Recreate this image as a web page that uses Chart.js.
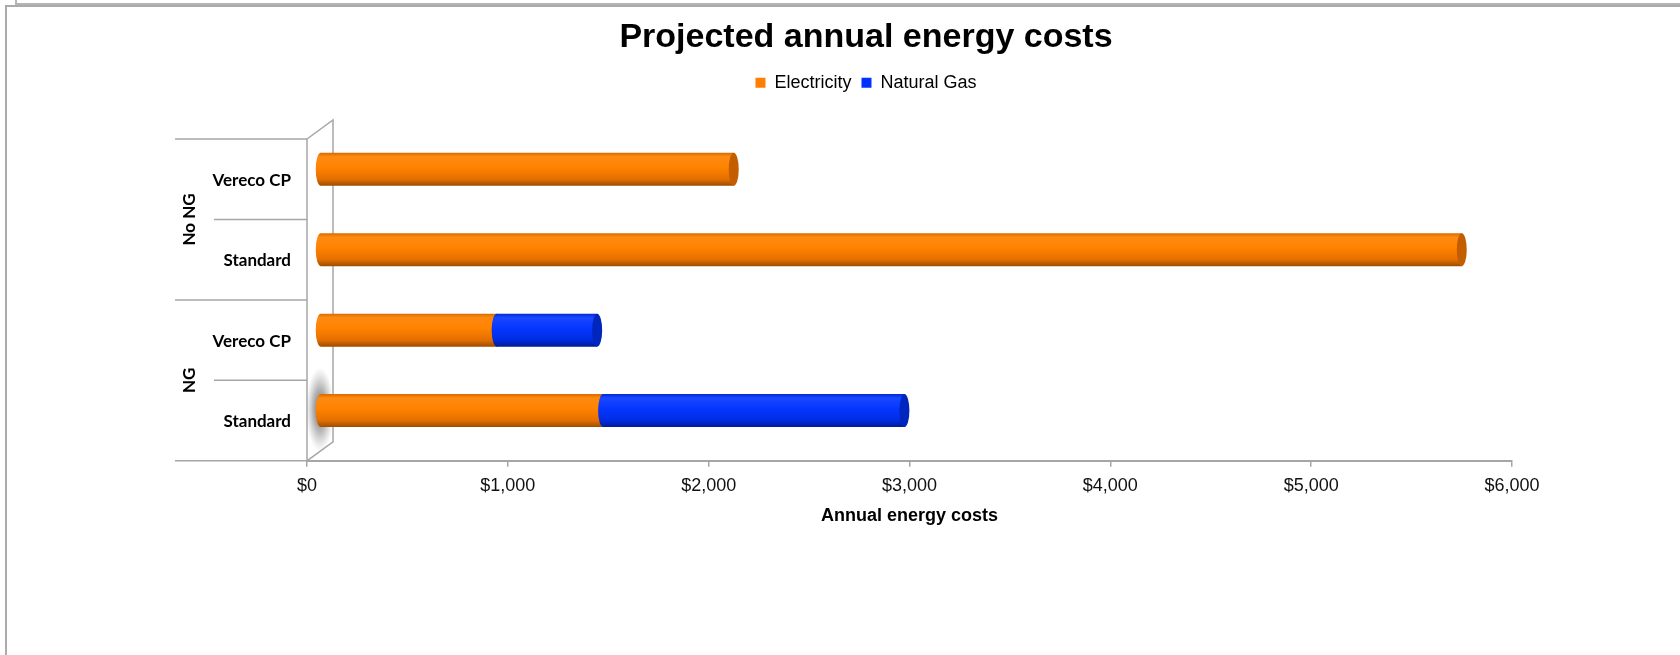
<!DOCTYPE html>
<html>
<head>
<meta charset="utf-8">
<script src="https://cdn.jsdelivr.net/npm/chart.js@4.4.1/dist/chart.umd.min.js"></script>
<style>
  html, body { margin: 0; padding: 0; background: #fff; }
  body { width: 1680px; height: 655px; overflow: hidden; position: relative; }
  #topLine { position: absolute; left: 15px; top: 0; right: 0; height: 3px;
             border-left: 2px solid #b4b4b4; border-bottom: 2px solid #b4b4b4; }
  #frame { position: absolute; left: 5px; top: 5px; right: -10px; bottom: -10px;
           border-left: 2px solid #ababab; border-top: 2px solid #ababab; }
  #wrap { position: absolute; left: 0; top: 0; width: 1680px; height: 655px; }
</style>
</head>
<body>
<div id="topLine"></div>
<div id="frame"></div>
<div id="wrap"><canvas id="costChart"></canvas></div>
<script>
// data
const categories = ['Vereco CP', 'Standard', 'Vereco CP', 'Standard'];
const groups = ['No NG', 'NG'];
const groupSize = 2;
const electricity = [2060, 5685, 880, 1410];
const naturalGas = [0, 0, 500, 1500];
const xTicks = [0, 1000, 2000, 3000, 4000, 5000, 6000];

const DEPTH_X = 13, DEPTH_Y = -10;   // bars sit half way into the floor
const BACK_X = 26, BACK_Y = -19;     // back wall offset
const LINE = '#a6a6a6';
const CAT_FONT = 'bold 17px Lato';

// the little 3d box at the category axis, drawn under the bars,
// plus the two-level category labels
const walls = {
    id: 'walls',
    beforeDatasetsDraw(chart) {
        const ctx = chart.ctx;
        const {left, top, bottom} = chart.chartArea;
        const y = chart.scales.y;
        ctx.save();

        // soft shadow next to the last bar
        ctx.save();
        ctx.translate(left + 13, y.getPixelForValue(3) - 11);
        ctx.scale(1, 3);
        const rg = ctx.createRadialGradient(0, 0, 0, 0, 0, 14);
        rg.addColorStop(0, 'rgba(90,90,90,0.95)');
        rg.addColorStop(0.5, 'rgba(120,120,120,0.55)');
        rg.addColorStop(1, 'rgba(150,150,150,0)');
        ctx.fillStyle = rg;
        ctx.beginPath();
        ctx.arc(0, 0, 14, 0, Math.PI * 2);
        ctx.fill();
        ctx.restore();

        ctx.strokeStyle = LINE;
        ctx.lineWidth = 1.5;
        ctx.beginPath();
        ctx.moveTo(left, top); ctx.lineTo(left, bottom);
        ctx.moveTo(left, top); ctx.lineTo(left + BACK_X, top + BACK_Y);
        ctx.lineTo(left + BACK_X, bottom + BACK_Y);
        ctx.lineTo(left, bottom);
        for (let i = 0; i <= categories.length; i++) {
            const py = y.getPixelForValue(i - 0.5);
            const startX = (i % groupSize === 0) ? left - 132 : left - 93;
            ctx.moveTo(startX, py); ctx.lineTo(left, py);
        }
        ctx.stroke();

        ctx.fillStyle = '#000';
        ctx.font = CAT_FONT;
        ctx.textBaseline = 'middle';
        ctx.textAlign = 'right';
        categories.forEach((c, i) => {
            ctx.fillText(c, left - 16, y.getPixelForValue(i) + 1);
        });

        // group labels, turned on their side
        ctx.textAlign = 'center';
        groups.forEach((g, gi) => {
            const y0 = y.getPixelForValue(gi * groupSize - 0.5);
            const y1 = y.getPixelForValue((gi + 1) * groupSize - 0.5);
            ctx.save();
            ctx.translate(left - 117, (y0 + y1) / 2);
            ctx.rotate(-Math.PI / 2);
            ctx.fillText(g, 0, 0);
            ctx.restore();
        });
        ctx.restore();
    }
};

// cylinder look for each bar segment, first series first so the
// next segment's rounded end lies over the previous cap.
// Returning false skips the flat default bars.
const cylinders = {
    id: 'cylinders',
    beforeDatasetsDraw(chart) {
        const ctx = chart.ctx;
        ctx.save();
        ctx.translate(DEPTH_X, DEPTH_Y);
        chart.data.datasets.forEach((ds, di) => {
            chart.getDatasetMeta(di).data.forEach((bar, i) => {
                if (!ds.data[i]) return;
                const {x, y, base, height} = bar.getProps(['x', 'y', 'base', 'height'], true);
                const top = y - height / 2, rx = 5;
                const g = ctx.createLinearGradient(0, top, 0, top + height);
                ds.shades.forEach(([stop, c]) => g.addColorStop(stop, c));
                ctx.fillStyle = g;
                ctx.beginPath();
                ctx.ellipse(base, y, rx, height / 2, 0, Math.PI / 2, Math.PI * 1.5);
                ctx.lineTo(x, top);
                ctx.lineTo(x, top + height);
                ctx.closePath();
                ctx.fill();
                ctx.fillStyle = ds.capColor;
                ctx.beginPath();
                ctx.ellipse(x, y, rx, height / 2, 0, 0, Math.PI * 2);
                ctx.fill();
            });
        });
        ctx.restore();
        return false;
    }
};

const ctx = document.getElementById('costChart').getContext('2d');
new Chart(ctx, {
    type: 'bar',
    data: {
        labels: categories,
        datasets: [{
            label: 'Electricity',
            data: electricity,
            backgroundColor: '#ff8000',
            shades: [[0, '#d86a00'], [0.12, '#ff8a12'], [0.45, '#ff8300'], [0.8, '#e46f00'], [1, '#9c4d00']],
            capColor: '#c25e00',
            barThickness: 33
        }, {
            label: 'Natural Gas',
            data: naturalGas,
            backgroundColor: '#0033ff',
            shades: [[0, '#0029d6'], [0.12, '#1a48ff'], [0.45, '#0436ff'], [0.8, '#002ce0'], [1, '#001c96']],
            capColor: '#0026bd',
            barThickness: 33
        }]
    },
    options: {
        indexAxis: 'y',
        responsive: true,
        maintainAspectRatio: false,
        animation: false,
        // left padding is wide so the title and legend sit a little right of centre
        layout: { padding: { left: 220, right: 168, top: 0, bottom: 124 } },
        scales: {
            x: {
                stacked: true,
                min: 0,
                max: 6000,
                afterBuildTicks: (scale) => { scale.ticks = xTicks.map(v => ({ value: v })); },
                ticks: {
                    padding: 8,
                    color: '#111',
                    font: { family: 'Liberation Sans', size: 18 },
                    callback: (v) => '$' + v.toLocaleString('en-US')
                },
                grid: { drawOnChartArea: false, color: LINE, tickLength: 6, lineWidth: 1.5 },
                border: { color: LINE, width: 2 },
                title: {
                    display: true,
                    text: 'Annual energy costs',
                    color: '#000',
                    font: { family: 'Liberation Sans', size: 18, weight: 'bold' },
                    padding: { top: 1, bottom: 4 }
                }
            },
            y: {
                stacked: true,
                afterFit: (scale) => { scale.width = 87; },
                ticks: { display: false },
                grid: { display: false },
                border: { display: false }
            }
        },
        plugins: {
            title: {
                display: true,
                text: 'Projected annual energy costs',
                color: '#000',
                font: { family: 'Liberation Sans', size: 34, weight: 'bold' },
                padding: { top: 17, bottom: 6 }
            },
            subtitle: {
                display: true,
                text: '',
                weight: 500,
                font: { size: 1 },
                padding: { top: 0, bottom: 36 }
            },
            legend: {
                labels: {
                    boxWidth: 10,
                    boxHeight: 10,
                    padding: 10,
                    color: '#000',
                    font: { family: 'Liberation Sans', size: 18 }
                }
            },
            tooltip: { enabled: false }
        }
    },
    plugins: [walls, cylinders]
});
</script>
</body>
</html>
